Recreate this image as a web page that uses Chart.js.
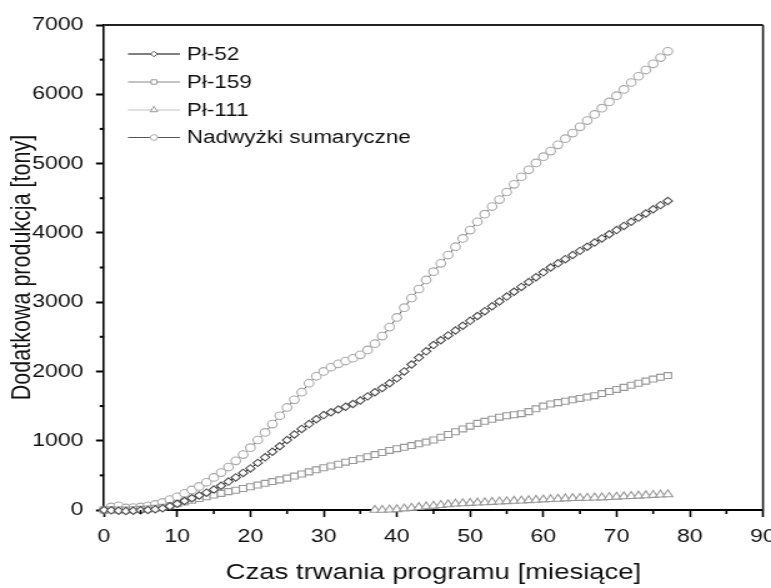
<!DOCTYPE html>
<html lang="pl">
<head>
<meta charset="utf-8">
<title>Dodatkowa produkcja</title>
<script src="https://cdn.jsdelivr.net/npm/chart.js@4/dist/chart.umd.min.js"></script>
<style>
  html, body { margin: 0; padding: 0; background: #fff; overflow: hidden; }
  /* the reference picture is stretched sideways, so the chart is drawn narrow and widened */
  #wrap { width: 617px; height: 588px; transform: scaleX(1.2496); transform-origin: 0 0; }
</style>
</head>
<body>
<div id="wrap"><canvas id="chart" width="617" height="588"></canvas></div>
<script>
const FONT = "'Liberation Sans', Arial, sans-serif";

const months = [
  0, 1, 2, 3, 4, 5, 6, 7, 8, 9,
  10, 11, 12, 13, 14, 15, 16, 17, 18, 19,
  20, 21, 22, 23, 24, 25, 26, 27, 28, 29,
  30, 31, 32, 33, 34, 35, 36, 37, 38, 39,
  40, 41, 42, 43, 44, 45, 46, 47, 48, 49,
  50, 51, 52, 53, 54, 55, 56, 57, 58, 59,
  60, 61, 62, 63, 64, 65, 66, 67, 68, 69,
  70, 71, 72, 73, 74, 75, 76, 77,
];

const months111 = [
  37, 38, 39,
  40, 41, 42, 43, 44, 45, 46, 47, 48, 49,
  50, 51, 52, 53, 54, 55, 56, 57, 58, 59,
  60, 61, 62, 63, 64, 65, 66, 67, 68, 69,
  70, 71, 72, 73, 74, 75, 76, 77,
];

const pl52 = [
  0, -5, -10, -15, -10, -5, 0, 10, 25, 55,
  90, 130, 170, 210, 250, 295, 350, 410, 470, 535,
  600, 680, 760, 840, 920, 1010, 1090, 1170, 1240, 1310,
  1370, 1410, 1450, 1490, 1530, 1580, 1640, 1700, 1760, 1830,
  1900, 2000, 2100, 2200, 2290, 2380, 2450, 2520, 2590, 2660,
  2730, 2800, 2870, 2940, 3010, 3080, 3150, 3220, 3290, 3360,
  3430, 3500, 3560, 3620, 3680, 3740, 3800, 3860, 3920, 3980,
  4040, 4100, 4160, 4220, 4280, 4340, 4400, 4460,
];

const pl159 = [
  0, 0, 0, 0, 5, 10, 15, 25, 40, 60,
  90, 115, 140, 165, 190, 215, 240, 265, 285, 310,
  335, 360, 385, 410, 435, 460, 490, 520, 550, 580,
  610, 635, 660, 690, 715, 740, 770, 800, 830, 860,
  885, 905, 930, 955, 980, 1010, 1050, 1090, 1130, 1170,
  1210, 1250, 1280, 1310, 1340, 1360, 1375, 1390, 1420, 1460,
  1500, 1530, 1550, 1570, 1590, 1610, 1630, 1650, 1680, 1710,
  1740, 1770, 1800, 1830, 1860, 1890, 1915, 1940,
];

const pl111 = [
  0, 0, 5,
  10, 20, 30, 40, 50, 60, 70, 80, 90, 95,
  100, 105, 110, 115, 120, 125, 130, 135, 140, 145,
  150, 155, 160, 165, 170, 172, 175, 178, 180, 185,
  190, 195, 200, 205, 210, 215, 220, 225,
];

const total = [
  0, 45, 60, 30, 35, 45, 60, 80, 110, 150,
  190, 240, 290, 340, 400, 470, 540, 620, 710, 800,
  900, 1010, 1120, 1240, 1360, 1480, 1590, 1700, 1830, 1930,
  2000, 2060, 2110, 2150, 2190, 2240, 2310, 2400, 2510, 2640,
  2780, 2920, 3060, 3190, 3320, 3440, 3560, 3680, 3800, 3920,
  4040, 4160, 4270, 4380, 4480, 4590, 4700, 4810, 4910, 5010,
  5100, 5180, 5270, 5360, 5440, 5530, 5620, 5710, 5800, 5890,
  5980, 6070, 6170, 6260, 6350, 6440, 6530, 6620,
];

const xTicks = [0, 10, 20, 30, 40, 50, 60, 70, 80, 90];
const yTicks = [0, 1000, 2000, 3000, 4000, 5000, 6000, 7000];

function points(xs, ys) {
  return xs.map((x, i) => ({ x, y: ys[i] }));
}

function series(label, xs, ys, line, marker, style, radius, lineWidth) {
  return {
    label,
    data: points(xs, ys),
    borderColor: line,
    borderWidth: lineWidth,
    pointStyle: style,
    pointRadius: radius,
    pointBorderColor: marker,
    pointBackgroundColor: "#fff",
    pointBorderWidth: 1.1,
    tension: 0,
    clip: false,
  };
}

// frame on top and right, plus short minor ticks
const framePlugin = {
  id: "frame",
  afterDraw(chart) {
    const { ctx, chartArea: a, scales } = chart;
    ctx.save();
    ctx.strokeStyle = "#222";
    ctx.lineWidth = 2;
    ctx.beginPath();
    ctx.moveTo(a.left, a.top);
    ctx.lineTo(a.right, a.top);
    ctx.stroke();
    ctx.lineWidth = 1.6;
    ctx.beginPath();
    ctx.moveTo(a.right, a.top);
    ctx.lineTo(a.right, a.bottom + 1);
    ctx.stroke();

    ctx.strokeStyle = "#000";
    for (let v = 5; v < 90; v += 10) {
      const px = scales.x.getPixelForValue(v);
      ctx.lineWidth = 1.6;
      ctx.beginPath();
      ctx.moveTo(px, a.bottom);
      ctx.lineTo(px, a.bottom + 4);
      ctx.stroke();
    }
    for (let v = 500; v < 7000; v += 1000) {
      const py = scales.y.getPixelForValue(v);
      ctx.lineWidth = 2;
      ctx.beginPath();
      ctx.moveTo(a.left, py);
      ctx.lineTo(a.left - 3.4, py);
      ctx.stroke();
    }
    ctx.restore();
  },
};

// legend inside the plot, line with marker
const legendPlugin = {
  id: "innerLegend",
  afterDraw(chart) {
    const { ctx } = chart;
    const rows = [54, 82, 110, 137.5];
    ctx.save();
    ctx.font = `18px ${FONT}`;
    ctx.textBaseline = "middle";
    chart.data.datasets.forEach((ds, i) => {
      const y = rows[i];
      ctx.strokeStyle = ds.borderColor;
      ctx.lineWidth = 1.2;
      ctx.beginPath();
      ctx.moveTo(102.4, y);
      ctx.lineTo(144, y);
      ctx.stroke();
      ctx.strokeStyle = ds.pointBorderColor;
      ctx.fillStyle = "#fff";
      ctx.lineWidth = 1;
      Chart.helpers.drawPoint(ctx, {
        pointStyle: ds.pointStyle,
        radius: ds.pointRadius * 0.75,
        borderWidth: 1,
        rotation: 0,
      }, 123.2, y);
      ctx.fillStyle = "#111";
      ctx.fillText(ds.label, 149.6, y + 1);
    });
    ctx.restore();
  },
};

new Chart(document.getElementById("chart"), {
  type: "line",
  data: {
    datasets: [
      series("Pł-52", months, pl52, "#000", "#505050", "rectRot", 3.7, 1),
      series("Pł-159", months, pl159, "#888", "#999", "rect", 4.2, 1),
      series("Pł-111", months111, pl111, "#c4c4c4", "#999", "triangle", 4.6, 2),
      series("Nadwyżki sumaryczne", months, total, "#555", "#aaa", "circle", 3.8, 1),
    ],
  },
  options: {
    responsive: false,
    animation: false,
    devicePixelRatio: 1,
    layout: { padding: { left: 0, right: 6.4, top: 25, bottom: 0 } },
    plugins: {
      legend: { display: false },
      tooltip: { enabled: false },
    },
    scales: {
      x: {
        type: "linear",
        min: 0,
        max: 90,
        afterFit(s) {
          s.height = 78;
          s.paddingLeft = 0;
          s.paddingRight = 0;
        },
        afterBuildTicks(s) {
          s.ticks = xTicks.map((value) => ({ value }));
        },
        ticks: {
          color: "#111",
          padding: 9,
          maxRotation: 0,
          autoSkip: false,
          callback: (v) => String(v),
          font: { family: FONT, size: 18.5 },
        },
        grid: {
          drawOnChartArea: false,
          tickLength: 7,
          tickColor: "#000",
          tickWidth: 1.6,
        },
        border: { color: "#000", width: 2 },
        title: {
          display: true,
          text: "Czas trwania programu [miesiące]",
          color: "#111",
          padding: { top: 0, bottom: 2 },
          font: { family: FONT, size: 22 },
        },
      },
      y: {
        min: 0,
        max: 7000,
        afterFit(s) {
          s.width = 83.2;
          s.paddingTop = 0;
          s.paddingBottom = 0;
        },
        afterBuildTicks(s) {
          s.ticks = yTicks.map((value) => ({ value }));
        },
        ticks: {
          color: "#111",
          padding: 10,
          autoSkip: false,
          callback: (v) => String(v),
          font: { family: FONT, size: 18.5 },
        },
        grid: {
          drawOnChartArea: false,
          tickLength: 6.4,
          tickColor: "#000",
          tickWidth: 2,
        },
        border: { color: "#000", width: 1.6 },
        title: {
          display: true,
          text: "Dodatkowa produkcja [tony]",
          color: "#111",
          padding: { top: 5, bottom: 0 },
          font: { family: FONT, size: 21.5 },
        },
      },
    },
  },
  plugins: [framePlugin, legendPlugin],
});
</script>
</body>
</html>
